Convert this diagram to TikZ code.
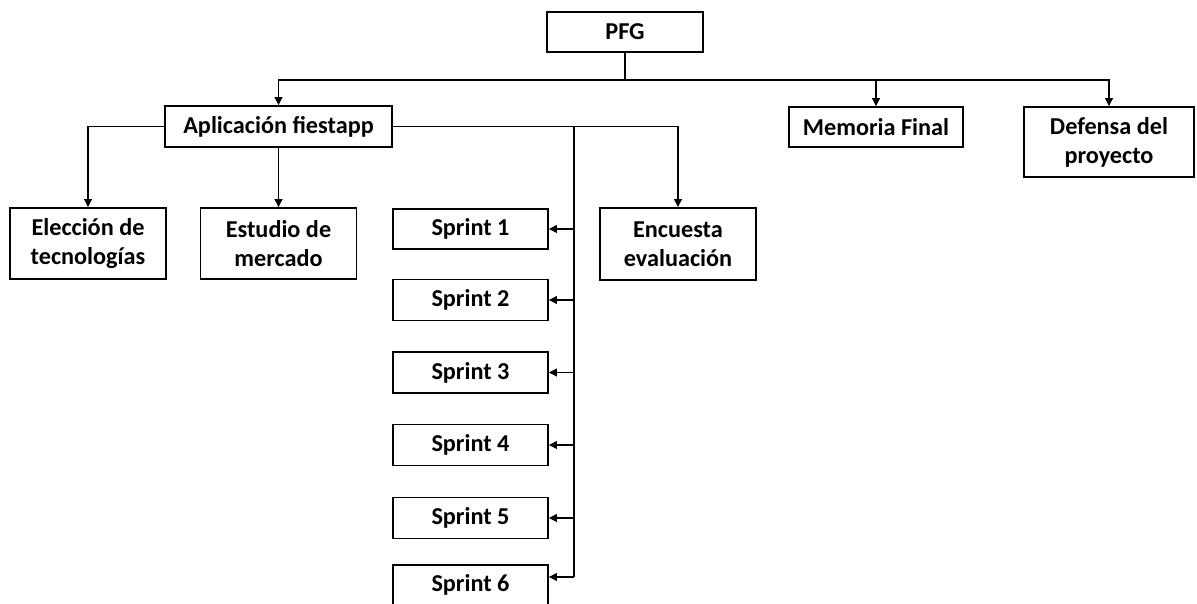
\documentclass[tikz,border=0pt]{standalone}
\usepackage{fontspec}
\setmainfont{Carlito}
\usetikzlibrary{arrows.meta}
\tikzset{
  box/.style 2 args={draw, line width=1.1pt, inner sep=0pt, align=center,
    minimum width=#1*0.02cm, minimum height=#2*0.02cm,
    font=\bfseries\fontsize{13.8}{16.5}\selectfont},
  link/.style={line width=0.6pt},
  arr/.style={link, -{Triangle[length=4.5pt,width=4.5pt]}},
}
\begin{document}
\begin{tikzpicture}[x=0.02cm, y=-0.02cm]
\useasboundingbox (0,0) rectangle (1197,604);

% top level
\node[box={156}{40}] (pfg) at (625,32) {PFG};
\node[box={227}{41}] (app) at (278.5,126.5) {Aplicación fiestapp};
\node[box={174}{40}] (mem) at (876,127) {Memoria Final};
\node[box={170}{70}] (def) at (1109,142) {Defensa del\\proyecto};

% second level
\node[box={156}{71}] (ele) at (88,243.5) {Elección de\\tecnologías};
\node[box={156}{71}] (est) at (278.5,243.5) {Estudio de\\mercado};
\node[box={156}{72}] (enc) at (678,244) {Encuesta\\evaluación};

% sprints
\node[box={155}{40}] (s1) at (470.5,229) {Sprint 1};
\node[box={155}{41}] (s2) at (470.5,300) {Sprint 2};
\node[box={155}{41}] (s3) at (470.5,372.5) {Sprint 3};
\node[box={155}{41}] (s4) at (470.5,445) {Sprint 4};
\node[box={155}{41}] (s5) at (470.5,518) {Sprint 5};
\node[box={155}{40}] (s6) at (470.5,585) {Sprint 6};

% connectors from PFG
\coordinate (bus) at (625,80);
\draw[link] (pfg.south) -- (bus);
\draw[arr] (bus) -| (app.north);
\draw[arr] (bus) -| (mem.north);
\draw[arr] (bus) -| (def.north);

% connectors from the application
\draw[arr] (app.west) -| (ele.north);
\draw[arr] (app.south) -- (est.north);
\draw[arr] (app.east) -| (enc.north);

% sprint bus
\coordinate (sb) at (574,126.5);
\coordinate (sbend) at (574,577);
\draw[link] (sb) -- (sbend);
\foreach \s in {s1,s2,s3,s4,s5}
  \draw[arr] (sb |- \s.east) -- (\s.east);
\draw[arr] (sbend) -- (sbend -| s6.east);
\end{tikzpicture}
\end{document}
